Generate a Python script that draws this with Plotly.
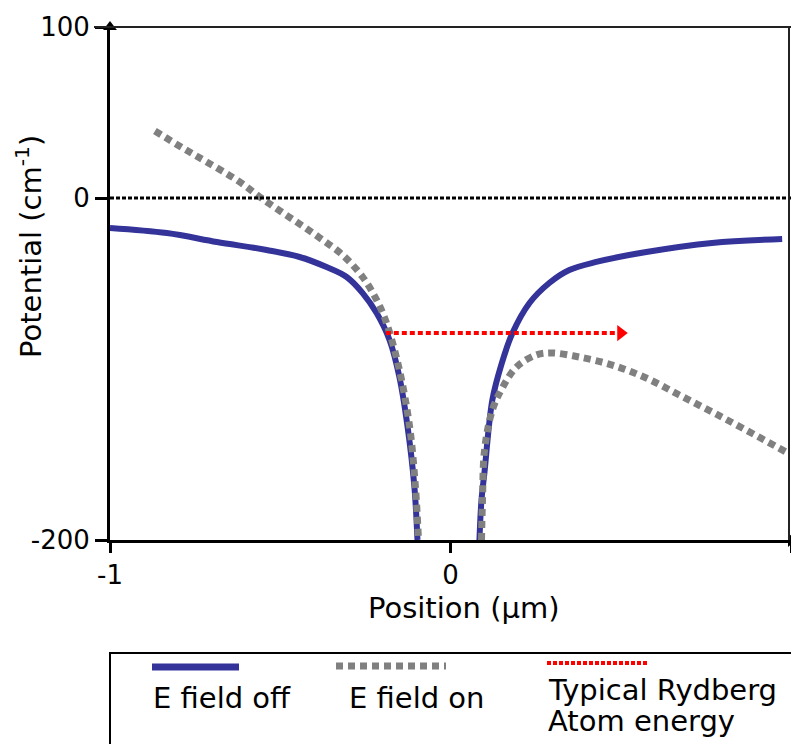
import plotly.graph_objects as go

# ---------------- data ----------------
off_left_x = [-1.0, -0.833, -0.686, -0.540, -0.443, -0.364, -0.305, -0.258, -0.217, -0.179, -0.150, -0.126, -0.106, -0.097]
off_left_y = [-17.5, -20.5, -25.7, -30.4, -34.5, -40.4, -46.2, -55.6, -67.3, -83.0, -104.7, -133.9, -169.0, -200.0]
off_right_x = [0.085, 0.091, 0.100, 0.123, 0.150, 0.182, 0.232, 0.290, 0.349, 0.428, 0.575, 0.768, 0.974]
off_right_y = [-200.0, -176.6, -160.0, -118.0, -97.0, -79.0, -61.4, -49.7, -42.1, -37.4, -31.6, -26.3, -24.0]

on_left_x = [-0.868, -0.786, -0.716, -0.619, -0.560, -0.496, -0.434, -0.375, -0.317, -0.258, -0.217, -0.188, -0.150, -0.120, -0.103, -0.094]
on_left_y = [39.2, 29.2, 21.1, 9.4, 0.6, -8.2, -16.4, -24.6, -33.3, -46.2, -59.6, -73.1, -100.6, -133.9, -169.0, -200.0]
on_right_x = [0.091, 0.094, 0.100, 0.123, 0.152, 0.194, 0.252, 0.296, 0.378, 0.475, 0.575, 0.672, 0.768, 0.868, 0.985]
on_right_y = [-200.0, -176.6, -147.4, -124.0, -111.1, -98.8, -91.8, -90.6, -93.0, -97.7, -105.3, -115.2, -125.1, -135.7, -148.5]

rydberg_x = [-0.19, 0.49]
rydberg_y = [-79.0, -79.0]
rydberg_head_x = [0.50]

x_ticks = [-1, 0, 1]
x_tick_labels = ["-1", "0", "1"]
y_ticks = [-200, 0, 100]
y_tick_labels = ["-200", "0", "100"]

legend_labels = ["E field off", "E field on", "Typical Rydberg", "Atom energy"]

# ---------------- layout geometry ----------------
W, H = 791, 744
L, R, T, B = 110, 0, 27, 204
PW = W - L - R
PH = H - T - B
FONT = "DejaVu Sans"
BLUE = "#333399"
GRAY = "#808080"
RED = "#ff0000"


def px(xp):
    return (xp - L) / PW


def py(yp):
    return (H - B - yp) / PH


fig = go.Figure()

spl = dict(shape="spline", smoothing=1.0)
fig.add_trace(go.Scatter(x=off_left_x, y=off_left_y, mode="lines",
                         line=dict(color=BLUE, width=6, **spl), showlegend=False))
fig.add_trace(go.Scatter(x=off_right_x, y=off_right_y, mode="lines",
                         line=dict(color=BLUE, width=6, **spl), showlegend=False))
fig.add_trace(go.Scatter(x=on_left_x, y=on_left_y, mode="lines",
                         line=dict(color=GRAY, width=7, dash="7px,5px", **spl), showlegend=False))
fig.add_trace(go.Scatter(x=on_right_x, y=on_right_y, mode="lines",
                         line=dict(color=GRAY, width=7, dash="7px,5px", **spl), showlegend=False))
fig.add_trace(go.Scatter(x=rydberg_x, y=rydberg_y, mode="lines",
                         line=dict(color=RED, width=4, dash="5px,3px"), showlegend=False))
fig.add_trace(go.Scatter(x=rydberg_head_x, y=rydberg_y[:1], mode="markers",
                         marker=dict(symbol="triangle-right", size=14, color=RED), showlegend=False))
# axis arrowheads
fig.add_trace(go.Scatter(x=[x_ticks[0]], y=[y_ticks[-1]], mode="markers",
                         marker=dict(symbol="triangle-up", size=12, color="black"),
                         cliponaxis=False, showlegend=False))
fig.add_trace(go.Scatter(x=[x_ticks[-1]], y=[y_ticks[0]], mode="markers",
                         marker=dict(symbol="triangle-right", size=12, color="black"),
                         cliponaxis=False, showlegend=False))

shapes = []
shapes.append(dict(type="line", xref="paper", yref="y", x0=0, x1=1, y0=0, y1=0,
                   line=dict(color="black", width=3, dash="4px,2px")))
shapes.append(dict(type="line", xref="paper", yref="paper", x0=px(94), x1=1, y0=1, y1=1,
                   line=dict(color="#222222", width=2)))
shapes.append(dict(type="line", xref="paper", yref="paper", x0=px(789), x1=px(789), y0=0, y1=1,
                   line=dict(color="#222222", width=2)))
shapes.append(dict(type="rect", xref="paper", yref="paper", x0=px(110), x1=px(800), y0=py(653), y1=py(760),
                   line=dict(color="black", width=2), fillcolor="rgba(0,0,0,0)"))
shapes.append(dict(type="line", xref="paper", yref="paper", x0=px(152), x1=px(239), y0=py(667), y1=py(667),
                   line=dict(color=BLUE, width=7)))
shapes.append(dict(type="line", xref="paper", yref="paper", x0=px(336), x1=px(446), y0=py(666), y1=py(666),
                   line=dict(color=GRAY, width=7, dash="7px,5px")))
shapes.append(dict(type="line", xref="paper", yref="paper", x0=px(547), x1=px(648), y0=py(663), y1=py(663),
                   line=dict(color=RED, width=4, dash="4px,2px")))

annotations = []
tf = dict(family=FONT, size=29, color="black")
annotations.append(dict(text="Position (\u03bcm)", xref="paper", yref="paper", x=px(463), y=py(608),
                        xanchor="center", yanchor="middle", showarrow=False, font=tf))
annotations.append(dict(text="Potential (cm<sup>-1</sup>)", xref="paper", yref="paper", x=px(29), y=py(247),
                        xanchor="center", yanchor="middle", textangle=-90, showarrow=False, font=tf))
annotations.append(dict(text=legend_labels[0], xref="paper", yref="paper", x=px(151), y=py(698),
                        xanchor="left", yanchor="middle", showarrow=False, font=tf))
annotations.append(dict(text=legend_labels[1], xref="paper", yref="paper", x=px(347), y=py(698),
                        xanchor="left", yanchor="middle", showarrow=False, font=tf))
annotations.append(dict(text=legend_labels[2], xref="paper", yref="paper", x=px(546), y=py(690),
                        xanchor="left", yanchor="middle", showarrow=False, font=tf))
annotations.append(dict(text=legend_labels[3], xref="paper", yref="paper", x=px(546), y=py(721),
                        xanchor="left", yanchor="middle", showarrow=False, font=tf))

fig.update_layout(
    width=W, height=H,
    margin=dict(l=L, r=R, t=T, b=B, autoexpand=False),
    paper_bgcolor="white", plot_bgcolor="white",
    shapes=shapes, annotations=annotations,
    showlegend=False,
    font=dict(family=FONT, color="black"),
)
fig.update_xaxes(range=[-1, 1], tickvals=x_ticks, ticktext=x_tick_labels, automargin=False,
                 showgrid=False, zeroline=False, showline=True, linecolor="black", linewidth=3,
                 ticks="outside", ticklen=10, tickwidth=3, tickcolor="black",
                 tickfont=dict(family=FONT, size=26, color="black"), ticklabelstandoff=0)
fig.update_yaxes(range=[-200, 100], tickvals=y_ticks, ticktext=y_tick_labels, automargin=False,
                 showgrid=False, zeroline=False, showline=True, linecolor="black", linewidth=3,
                 ticks="outside", ticklen=12, tickwidth=3, tickcolor="black",
                 tickfont=dict(family=FONT, size=26, color="black"), ticklabelstandoff=0)

fig.write_html("out.html", config={"displayModeBar": False},
               post_script="document.body.style.margin='0';document.body.style.overflow='hidden';")
